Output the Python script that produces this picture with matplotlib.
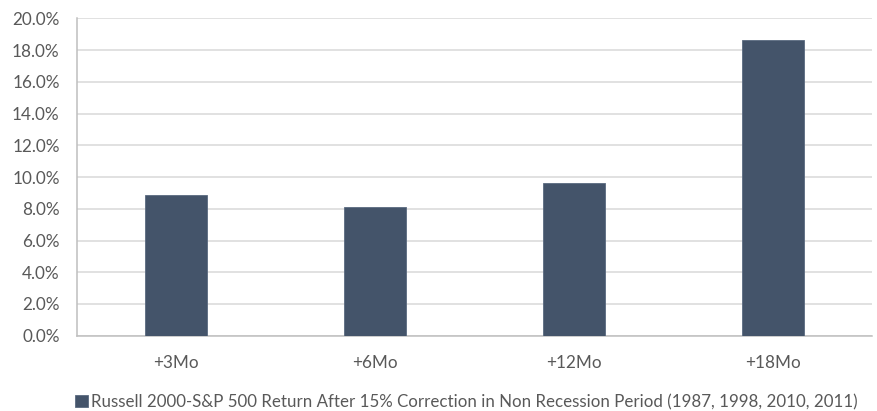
import numpy as np
import matplotlib
matplotlib.use('Agg')
import matplotlib.pyplot as plt
from matplotlib.ticker import FuncFormatter, MultipleLocator

# data
periods = ['+3Mo', '+6Mo', '+12Mo', '+18Mo']
excess_return = [8.85, 8.10, 9.63, 18.64]  # percent
series_label = 'Russell 2000-S&P 500 Return After 15% Correction in Non Recession Period (1987, 1998, 2010, 2011)'

plt.rcParams['font.family'] = ['Lato', 'DejaVu Sans']
bar_col = '#44546A'
txt_col = '#595959'

fig = plt.figure(figsize=(8.77, 4.11), dpi=100)
ax = fig.add_axes([0.0878, 0.1832, 0.9065, 0.7718])

x = np.arange(len(periods))
ax.bar(x, excess_return, width=0.312, color=bar_col, edgecolor='#5a6a80', linewidth=0.6,
       label=series_label, zorder=3)

ax.set_xlim(-0.5, len(periods) - 0.5)
ax.set_ylim(0, 20)
ax.yaxis.set_major_locator(MultipleLocator(2))
ax.yaxis.set_major_formatter(FuncFormatter(lambda v, p: f'{v:.1f}%'))
ax.set_xticks(x)
ax.set_xticklabels(periods)

ax.grid(axis='y', color='#D9D9D9', linewidth=1.1, zorder=0)
for s in ['top', 'right']:
    ax.spines[s].set_visible(False)
for s in ['left', 'bottom']:
    ax.spines[s].set_color('#BFBFBF')
    ax.spines[s].set_linewidth(1.1)
ax.tick_params(length=0, labelsize=12.3, colors=txt_col)
ax.tick_params(axis='x', pad=14)
ax.tick_params(axis='y', pad=12.5)

fig.legend(loc='lower center', bbox_to_anchor=(0.532, -0.035), frameon=False, fontsize=12.15,
           handlelength=0.75, handleheight=0.75, handletextpad=0.2, labelcolor=txt_col)

fig.savefig('out.png', dpi=100)
